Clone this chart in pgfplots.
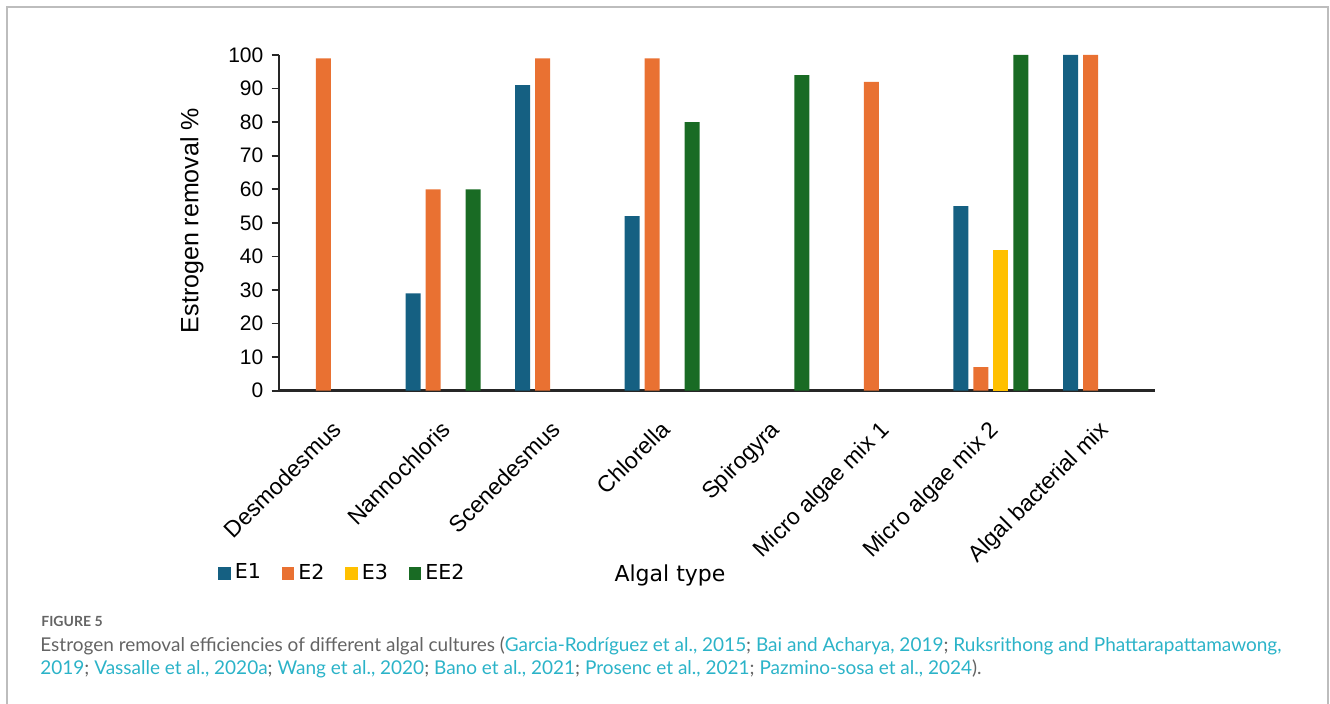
\documentclass[border=0pt]{standalone}
\usepackage{pgfplots}
\pgfplotsset{compat=1.18}
\usepackage{fontspec}
\setmainfont{Liberation Sans}
\newfontfamily\legendfont{DejaVu Sans}
\newfontfamily\capfont{Lato}

\definecolor{cE1}{HTML}{156082}
\definecolor{cE2}{HTML}{E97132}
\definecolor{cE3}{HTML}{FFC000}
\definecolor{cEE2}{HTML}{196B24}
\definecolor{framegray}{HTML}{BDBDBD}
\definecolor{captext}{HTML}{646464}
\definecolor{caplink}{HTML}{2BB3C8}
\definecolor{axisdark}{HTML}{262626}

\begin{document}
\begin{tikzpicture}
\useasboundingbox (0,0) rectangle (665pt,352pt);
% open frame round the figure
\draw[framegray, line width=1pt] (3.5pt,0) -- (3.5pt,348.5pt) -- (664pt,348.5pt) -- (664pt,0);

\begin{axis}[
  at={(139.35pt,156.65pt)}, anchor=south west,
  scale only axis, width=438.3pt, height=167.85pt,
  xmin=-0.5, xmax=7.5, ymin=0, ymax=100,
  axis x line=bottom, axis y line=left,
  axis line style={-},
  x axis line style={line width=1.5pt, color=axisdark},
  y axis line style={line width=0.9pt, color=axisdark},
  xtick={0,...,7},
  xticklabels={Desmodesmus, Nannochloris, Scenedesmus, Chlorella, Spirogyra, Micro algae mix 1, Micro algae mix 2, Algal bacterial mix},
  xtick style={draw=none},
  xticklabel style={rotate=45, anchor=north east, inner sep=0pt, xshift=-8.5pt, yshift=-6.5pt, font=\fontsize{11.5}{13}\selectfont},
  ytick={0,10,...,100},
  ytick style={line width=0.9pt, color=axisdark},
  tick align=outside, major tick length=3.5pt,
  yticklabel style={inner sep=0pt, xshift=-4pt, font=\fontsize{10.5}{12}\selectfont},
  /pgf/number format/assume math mode=true,
  ylabel={Estrogen removal \%},
  every axis y label/.style={at={(axis description cs:-0.0989,0.507)}, rotate=90, anchor=center, font=\fontsize{12.5}{14}\selectfont},
  xlabel={Algal type},
  every axis x label/.style={at={(axis description cs:0.4464,-0.567)}, anchor=base, font=\legendfont\fontsize{11}{13}\selectfont},
  legend columns=4,
  legend image code/.code={\fill[#1] (0pt,-3.4pt) rectangle (6.2pt,3.2pt);},
  legend style={at={(axis description cs:-0.0692,-0.543)}, anchor=west, draw=none, fill=none,
    inner sep=0pt, font=\legendfont\fontsize{10.3}{12}\selectfont,
    /tikz/every even column/.append style={column sep=8.5pt}},
]
\addplot[ybar, bar width=7.5pt, bar shift=-15pt, fill=cE1, draw=none]
  coordinates {(1,29) (2,91) (3,52) (6,55) (7,100)};
\addlegendentry{E1}
\addplot[ybar, bar width=7.5pt, bar shift=-5pt, fill=cE2, draw=none]
  coordinates {(0,99) (1,60) (2,99) (3,99) (5,92) (6,7) (7,100)};
\addlegendentry{E2}
\addplot[ybar, bar width=7.5pt, bar shift=5pt, fill=cE3, draw=none]
  coordinates {(6,42)};
\addlegendentry{E3}
\addplot[ybar, bar width=7.5pt, bar shift=15pt, fill=cEE2, draw=none]
  coordinates {(1,60) (3,80) (4,94) (6,100)};
\addlegendentry{EE2}
\end{axis}

% caption
\node[anchor=base west, inner sep=0pt, text=captext, font=\capfont\bfseries\fontsize{7}{8}\selectfont] at (20.5pt,38.65pt) {FIGURE 5};
\node[anchor=base west, inner sep=0pt, text=captext, font=\capfont\fontsize{9.5}{11}\selectfont] at (20pt,26.15pt)
  {Estrogen removal efficiencies of different algal cultures (\textcolor{caplink}{Garcia-Rodríguez et al., 2015}; \textcolor{caplink}{Bai and Acharya, 2019}; \textcolor{caplink}{Ruksrithong and Phattarapattamawong,}};
\node[anchor=base west, inner sep=0pt, text=captext, font=\capfont\fontsize{9.5}{11}\selectfont] at (20pt,14.5pt)
  {\textcolor{caplink}{2019}; \textcolor{caplink}{Vassalle et al., 2020a}; \textcolor{caplink}{Wang et al., 2020}; \textcolor{caplink}{Bano et al., 2021}; \textcolor{caplink}{Prosenc et al., 2021}; \textcolor{caplink}{Pazmino-sosa et al., 2024}).};
\end{tikzpicture}
\end{document}
